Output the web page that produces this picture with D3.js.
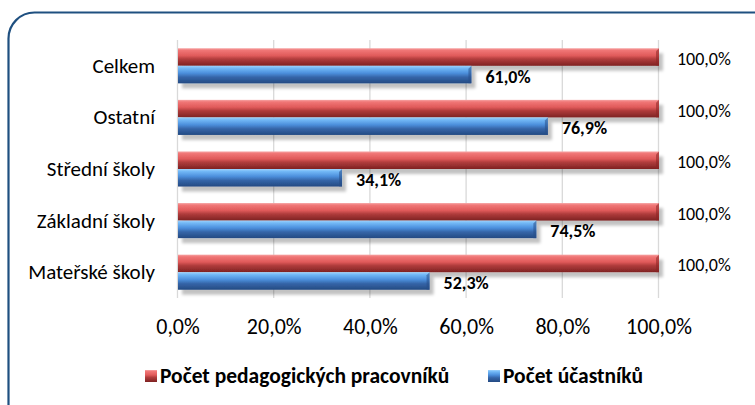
<!DOCTYPE html>
<html>
<head>
<meta charset="utf-8">
<script src="https://cdn.jsdelivr.net/npm/d3@7"></script>
<style>
  body { margin: 0; background: #fff; }
  text { font-family: Carlito, Calibri, Lato, sans-serif; fill: #000; }
</style>
</head>
<body>
<div id="figure"></div>
<script>
var categories = ["Celkem", "Ostatní", "Střední školy", "Základní školy", "Mateřské školy"];
var seriesNames = ["Počet pedagogických pracovníků", "Počet účastníků"];
var pedagogove = [100.0, 100.0, 100.0, 100.0, 100.0];
var ucastnici = [61.0, 76.9, 34.1, 74.5, 52.3];
var ticks = [0, 20, 40, 60, 80, 100];

var W = 755, H = 405;
var plotL = 178, plotR = 659, plotT = 40, plotB = 298;

var fmt = function(v) { return v.toFixed(1).replace(".", ",") + "%"; };

var svg = d3.select("#figure").append("svg")
	.attr("width", W).attr("height", H);

var defs = svg.append("defs");

function barGrad(id, stops) {
	var g = defs.append("linearGradient").attr("id", id)
		.attr("x1", 0).attr("y1", 0).attr("x2", 0).attr("y2", 1);
	stops.forEach(function(s) {
		g.append("stop").attr("offset", s[0]).attr("stop-color", s[1]);
	});
}
barGrad("gRed", [[0, "#f6a4a4"], [0.12, "#f07676"], [0.42, "#e05a5a"], [0.62, "#b03c3c"], [1, "#7e2222"]]);
barGrad("gBlue", [[0, "#9ed2fc"], [0.14, "#72b8f6"], [0.42, "#4c8fdc"], [0.65, "#3565a8"], [1, "#244a82"]]);

var f = defs.append("filter").attr("id", "shadow")
	.attr("x", "-5%").attr("y", "-30%").attr("width", "115%").attr("height", "180%");
f.append("feDropShadow").attr("dx", 4).attr("dy", 5).attr("stdDeviation", 1.6)
	.attr("flood-color", "#000").attr("flood-opacity", 0.24);

// frame
svg.append("rect")
	.attr("x", 8.5).attr("y", 12.5)
	.attr("width", 775).attr("height", 420)
	.attr("rx", 26).attr("ry", 26)
	.attr("fill", "none")
	.attr("stroke", "#1f5080")
	.attr("stroke-width", 2.2);

var x = d3.scaleLinear().domain([0, 100]).range([plotL, plotR]);
var y = d3.scaleBand().domain(categories).range([plotT, plotB])
	.paddingInner(0.32).paddingOuter(0.16);
var sub = d3.scaleBand().domain([0, 1]).range([0, y.bandwidth()]);

// gridlines
svg.append("g").selectAll("line")
	.data(ticks).enter().append("line")
	.attr("x1", function(d) { return x(d) - 0.5; })
	.attr("x2", function(d) { return x(d) - 0.5; })
	.attr("y1", plotT).attr("y2", plotB)
	.attr("stroke", "#d9d9d9").attr("stroke-width", 1.3);

// bars
var rows = categories.map(function(c, i) {
	return { cat: c, vals: [pedagogove[i], ucastnici[i]] };
});

var grp = svg.append("g").selectAll("g.row")
	.data(rows).enter().append("g")
	.attr("class", "row")
	.attr("transform", function(d) { return "translate(0," + y(d.cat) + ")"; });

grp.selectAll("rect.bar")
	.data(function(d) { return d.vals.map(function(v, j) { return { v: v, s: j }; }); })
	.enter().append("rect")
	.attr("class", "bar")
	.attr("x", x(0))
	.attr("y", function(d) { return sub(d.s); })
	.attr("width", function(d) { return x(d.v) - x(0); })
	.attr("height", sub.bandwidth())
	.attr("fill", function(d) { return d.s == 0 ? "url(#gRed)" : "url(#gBlue)"; })
	.attr("filter", "url(#shadow)");

// bevel at bar end
grp.selectAll("path.cap")
	.data(function(d) { return d.vals.map(function(v, j) { return { v: v, s: j }; }); })
	.enter().append("path")
	.attr("class", "cap")
	.attr("d", function(d) {
		var xe = x(d.v), y0 = sub(d.s), h = sub.bandwidth();
		return "M" + (xe - 3) + "," + (y0 + 3) + "L" + xe + "," + y0 + "L" + xe + "," + (y0 + h) + "L" + (xe - 3) + "," + (y0 + h) + "Z";
	})
	.attr("fill", function(d) { return d.s == 0 ? "#8a2424" : "#284f88"; })
	.attr("opacity", 0.55);

// value labels
grp.selectAll("text.val")
	.data(function(d) { return d.vals.map(function(v, j) { return { v: v, s: j }; }); })
	.enter().append("text")
	.attr("class", "val")
	.attr("x", function(d) { return x(d.v) + (d.s == 0 ? 18 : 14); })
	.attr("y", function(d) { return sub(d.s) + sub.bandwidth() / 2 + 2; })
	.attr("dominant-baseline", "central")
	.attr("font-size", "18px")
	.attr("font-weight", function(d) { return d.s == 0 ? "normal" : "bold"; })
	.text(function(d) { return fmt(d.v); });

// category labels
svg.append("g").selectAll("text")
	.data(categories).enter().append("text")
	.attr("x", 155)
	.attr("y", function(d) { return y(d) + y.bandwidth() / 2; })
	.attr("text-anchor", "end")
	.attr("dominant-baseline", "central")
	.attr("font-size", "21px")
	.text(function(d) { return d; });

// x tick labels
svg.append("g").selectAll("text")
	.data(ticks).enter().append("text")
	.attr("x", function(d) { return x(d); })
	.attr("y", 326)
	.attr("text-anchor", "middle")
	.attr("dominant-baseline", "central")
	.attr("font-size", "22px")
	.text(function(d) { return fmt(d); });

// legend
var legX = [145, 488];
var leg = svg.append("g").selectAll("g")
	.data(seriesNames).enter().append("g")
	.attr("transform", function(d, i) { return "translate(" + legX[i] + ",376)"; });
leg.append("rect")
	.attr("x", 0).attr("y", -6)
	.attr("width", 12).attr("height", 12)
	.attr("fill", function(d, i) { return i == 0 ? "url(#gRed)" : "url(#gBlue)"; });
leg.append("text")
	.attr("x", 15).attr("y", 0)
	.attr("dominant-baseline", "central")
	.attr("font-size", "21.5px")
	.attr("font-weight", "bold")
	.text(function(d) { return d; });
</script>
</body>
</html>
